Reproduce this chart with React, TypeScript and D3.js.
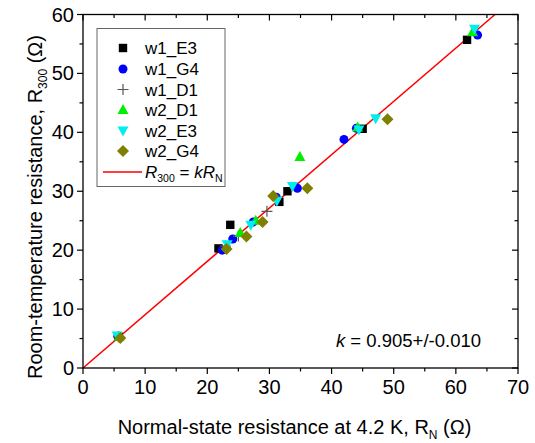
import React from "react";
import * as d3 from "d3";

const seriesNames = ["w1_E3", "w1_G4", "w1_D1", "w2_D1", "w2_E3", "w2_G4"];
const w1_E3 = [[61.8, 55.7], [23.7, 24.3], [21.8, 20.3], [31.6, 28.2], [32.9, 30.0], [45.0, 40.6], [5.7, 5.3]];
const w1_G4 = [[63.5, 56.5], [42.0, 38.8], [34.5, 30.5], [31.1, 29.0], [27.4, 24.8], [24.1, 21.9], [22.4, 20.0], [44.0, 40.7], [5.6, 5.4]];
const w1_D1 = [[29.6, 26.6], [22.9, 20.7], [25.0, 22.4], [5.7, 5.3]];
const w2_D1 = [[34.9, 35.8], [62.7, 57.0], [44.2, 40.8], [27.8, 25.0], [25.3, 22.9], [5.8, 5.3]];
const w2_E3 = [[63.0, 57.6], [47.1, 42.4], [44.4, 40.5], [33.7, 30.9], [31.2, 28.4], [27.0, 24.3], [23.2, 21.0], [5.5, 5.5]];
const w2_G4 = [[49.0, 42.2], [36.1, 30.5], [30.6, 29.2], [28.9, 24.8], [26.3, 22.3], [23.1, 20.2], [6.0, 5.1]];
const allSeries = [w1_E3, w1_G4, w1_D1, w2_D1, w2_E3, w2_G4];
const colors = ["#000000", "#0000ff", "#555555", "#00ee00", "#00eeee", "#7f7f00"];
const kFit = 0.905;
const xTicks = [0, 10, 20, 30, 40, 50, 60, 70];
const yTicks = [0, 10, 20, 30, 40, 50, 60];

const FONT = "Arial, 'Liberation Sans', sans-serif";

function Marker({ type, x, y, color }: { type: number; x: number; y: number; color: string }) {
  if (type === 0) return <rect x={x - 4.2} y={y - 4.2} width={8.4} height={8.4} fill={color} />;
  if (type === 1) return <circle cx={x} cy={y} r={4.5} fill={color} />;
  if (type === 2)
    return (
      <path d={`M${x - 5.5},${y}H${x + 5.5}M${x},${y - 5.5}V${y + 5.5}`} stroke={color} strokeWidth={1.2} fill="none" />
    );
  if (type === 3) return <path d={`M${x},${y - 6}L${x + 5.5},${y + 4}L${x - 5.5},${y + 4}Z`} fill={color} />;
  if (type === 4) return <path d={`M${x},${y + 6}L${x + 5.5},${y - 4}L${x - 5.5},${y - 4}Z`} fill={color} />;
  return <path d={`M${x},${y - 6}L${x + 6},${y}L${x},${y + 6}L${x - 6},${y}Z`} fill={color} />;
}

export default function App() {
  const W = 535, H = 443;
  const L = 83, R = 518, T = 14.5, B = 368;
  const x = d3.scaleLinear().domain([0, 70]).range([L, R]);
  const y = d3.scaleLinear().domain([0, 60]).range([B, T]);
  const minorX = d3.range(5, 70, 10);
  const minorY = d3.range(5, 60, 10);
  const xEnd = 60 / kFit;
  const legendYs = [48, 69, 89.5, 110, 130.5, 151];

  return (
    <svg width={W} height={H} style={{ position: "absolute", left: 0, top: 0, background: "#fff" }} fontFamily={FONT}>
      {/* fit line */}
      <line x1={x(0)} y1={y(0)} x2={x(xEnd)} y2={y(kFit * xEnd)} stroke="#ff0000" strokeWidth={1.6} />
      {/* data */}
      {allSeries.map((s, i) =>
        s.map((p, j) => <Marker key={i + "-" + j} type={i} x={x(p[0])} y={y(p[1])} color={colors[i]} />)
      )}
      {/* frame */}
      <rect x={L} y={T} width={R - L} height={B - T} fill="none" stroke="#000" strokeWidth={1.3} />
      {/* x ticks */}
      {xTicks.map((t) => (
        <g key={"xt" + t}>
          <line x1={x(t)} x2={x(t)} y1={B} y2={B + 6} stroke="#000" strokeWidth={1.2} />
          <line x1={x(t)} x2={x(t)} y1={T} y2={T + 6} stroke="#000" strokeWidth={1.2} />
          <text x={x(t)} y={394} textAnchor="middle" fontSize={20}>{t}</text>
        </g>
      ))}
      {minorX.map((t) => (
        <g key={"xm" + t}>
          <line x1={x(t)} x2={x(t)} y1={B} y2={B + 3.5} stroke="#000" strokeWidth={1.2} />
          <line x1={x(t)} x2={x(t)} y1={T} y2={T + 3.5} stroke="#000" strokeWidth={1.2} />
        </g>
      ))}
      {/* y ticks */}
      {yTicks.map((t) => (
        <g key={"yt" + t}>
          <line x1={L - 6} x2={L} y1={y(t)} y2={y(t)} stroke="#000" strokeWidth={1.2} />
          <line x1={R - 6} x2={R} y1={y(t)} y2={y(t)} stroke="#000" strokeWidth={1.2} />
          <text x={L - 9} y={y(t) + 7} textAnchor="end" fontSize={20}>{t}</text>
        </g>
      ))}
      {minorY.map((t) => (
        <g key={"ym" + t}>
          <line x1={L - 3.5} x2={L} y1={y(t)} y2={y(t)} stroke="#000" strokeWidth={1.2} />
          <line x1={R - 3.5} x2={R} y1={y(t)} y2={y(t)} stroke="#000" strokeWidth={1.2} />
        </g>
      ))}
      {/* axis titles */}
      <text x={(L + R) / 2 - 6} y={434} textAnchor="middle" fontSize={20}>
        Normal-state resistance at 4.2 K, R<tspan fontSize={12} dy={5}>N</tspan>
        <tspan dy={-5}> (Ω)</tspan>
      </text>
      <text transform={`translate(42,${207}) rotate(-90)`} textAnchor="middle" fontSize={20}>
        Room-temperature resistance, R<tspan fontSize={12} dy={5}>300</tspan>
        <tspan dy={-5}> (Ω)</tspan>
      </text>
      {/* k annotation */}
      <text x={481} y={347} textAnchor="end" fontSize={18.5}>
        <tspan fontStyle="italic">k</tspan> = 0.905+/-0.010
      </text>
      {/* legend */}
      <rect x={97} y={28.5} width={128} height={158} fill="#fff" stroke="#666" strokeWidth={1} />
      {seriesNames.map((n, i) => (
        <g key={"lg" + n}>
          <Marker type={i} x={123} y={legendYs[i]} color={colors[i]} />
          <text x={145} y={legendYs[i] + 6} fontSize={17}>{n}</text>
        </g>
      ))}
      <line x1={103} x2={142} y1={172} y2={172} stroke="#ff0000" strokeWidth={1.6} />
      <text x={145} y={178} fontSize={17}>
        <tspan fontStyle="italic">R</tspan>
        <tspan fontSize={10.5} dy={4}>300</tspan>
        <tspan dy={-4}> = </tspan>
        <tspan fontStyle="italic">kR</tspan>
        <tspan fontSize={10.5} dy={4}>N</tspan>
      </text>
    </svg>
  );
}
